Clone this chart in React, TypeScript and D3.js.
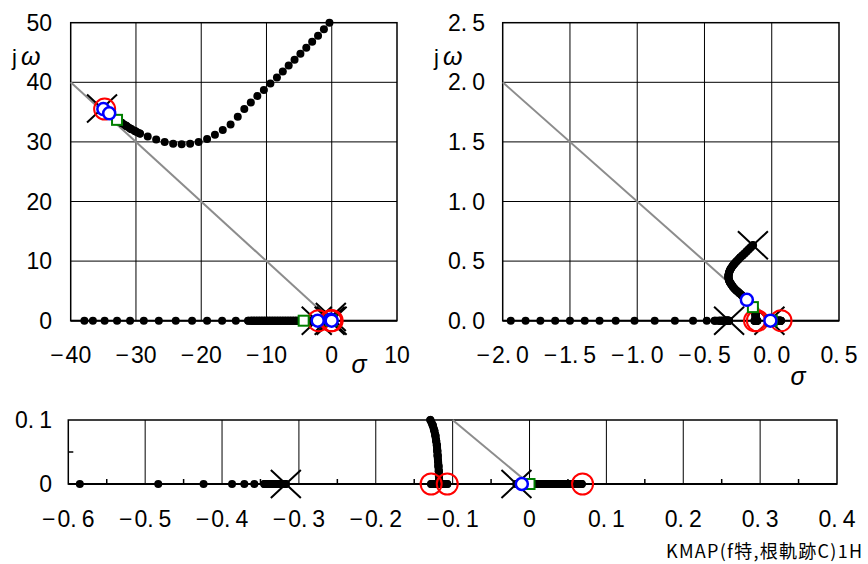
import React, { useEffect, useRef } from "react";
import * as d3 from "d3";

// tick values of the three panels
const tlXTicks = [-40, -30, -20, -10, 0, 10];
const tlYTicks = [0, 10, 20, 30, 40, 50];
const trXTicks = [-2.0, -1.5, -1.0, -0.5, 0.0, 0.5];
const trYTicks = [0.0, 0.5, 1.0, 1.5, 2.0, 2.5];
const btXTicks = [-0.6, -0.5, -0.4, -0.3, -0.2, -0.1, 0, 0.1, 0.2, 0.3, 0.4];
const btYTicks = [0, 0.1];
const btXMinor = [-0.55, -0.45, -0.35, -0.25, -0.15, -0.05, 0.05, 0.15, 0.25, 0.35];
const btYMinor = [0.05];

// poles (x), zeros (red), closed-loop roots (blue / green)
const poleRe = [-35.2, -2.3, -0.317, -0.14, -0.017];
const poleIm = [35.6, 0, 0, 0.633, 0];
const zeroRe = [-34.8, -2.05, -0.128, -0.107, 0.069];
const zeroIm = [35.5, 0, 0, 0, 0];
const blueRe = [-35.0, -34.1, -2.15, -0.185, -0.01];
const blueIm = [35.5, 34.8, 0, 0.175, 0];
const greenRe = [-32.9, -4.3, -0.14, 0.0];
const greenIm = [33.7, 0, 0.114, 0];

// locus branch from the far complex pole pair
const upperRe = [-35.2, -34.7, -34.1, -33.5, -32.9, -32.2, -31.5, -30.8, -30.1, -29.4,
  -28.2, -26.9, -25.6, -24.3, -23.0, -21.7, -20.4, -19.1, -17.9, -16.7, -15.5, -14.4,
  -13.4, -12.4, -11.4, -10.4, -9.4, -8.4, -7.5, -6.6, -5.7, -4.8, -3.9, -3.0, -2.1, -1.2, -0.35];
const upperIm = [35.6, 35.2, 34.8, 34.2, 33.7, 33.2, 32.7, 32.2, 31.8, 31.4,
  30.9, 30.4, 30.0, 29.7, 29.6, 29.7, 30.0, 30.5, 31.2, 32.0, 32.9, 34.2,
  35.5, 36.6, 37.7, 38.7, 39.8, 40.8, 41.8, 42.8, 43.8, 44.8, 45.8, 46.8, 47.8, 48.9, 50.0];

// locus branch from the slow complex pole pair
const innerRe = [-0.14, -0.155, -0.17, -0.186, -0.202, -0.218, -0.235, -0.25, -0.265, -0.278,
  -0.29, -0.301, -0.31, -0.316, -0.32, -0.322, -0.321, -0.317, -0.31, -0.3, -0.29, -0.278,
  -0.265, -0.252, -0.24, -0.225, -0.21, -0.197, -0.185, -0.172, -0.16, -0.15, -0.14, -0.134,
  -0.129, -0.126, -0.124, -0.1225, -0.1215, -0.1205, -0.12, -0.1195, -0.119, -0.1185, -0.118,
  -0.1178, -0.1176, -0.1175];
const innerIm = [0.633, 0.617, 0.6, 0.582, 0.564, 0.547, 0.53, 0.512, 0.494, 0.477,
  0.46, 0.442, 0.425, 0.407, 0.39, 0.373, 0.356, 0.338, 0.32, 0.303, 0.286, 0.27,
  0.255, 0.243, 0.231, 0.215, 0.2, 0.187, 0.175, 0.16, 0.145, 0.13, 0.114, 0.107,
  0.1, 0.092, 0.084, 0.076, 0.068, 0.06, 0.052, 0.044, 0.036, 0.028, 0.02,
  0.012, 0.005, 0];

// real-axis branches
const breakRe = [-0.128, -0.125, -0.122, -0.119, -0.116, -0.113, -0.11, -0.107];
const rhpRe = [-0.017, -0.012, -0.006, 0.0, 0.006, 0.012, 0.018, 0.024, 0.03, 0.036,
  0.042, 0.048, 0.053, 0.058, 0.062, 0.066, 0.068];
const nearRe = [-0.317, -0.32, -0.323, -0.326, -0.329, -0.333, -0.337, -0.341, -0.345,
  -0.358, -0.371, -0.387, -0.424, -0.483, -0.585, -0.72, -0.87, -1.02, -1.16, -1.28,
  -1.39, -1.5, -1.61, -1.72, -1.83, -1.94];
const farRe = [-2.4, -2.7, -3.0, -3.3, -3.6, -3.9, -4.3, -4.7, -5.1, -5.5, -5.9, -6.3,
  -6.7, -7.1, -7.5, -7.9, -8.3, -8.7, -9.1, -9.5, -9.9, -10.3, -10.7, -11.1, -11.5, -11.9,
  -12.3, -12.8, -14.7, -16.8, -19.1, -21.4, -23.9, -26.5, -28.8, -30.9, -32.9, -34.8, -36.6, -37.9];

const zip = (re: number[], im?: number[]) => re.map((v, i) => [v, im ? im[i] : 0]);

const branches = [
  zip(upperRe, upperIm),
  zip(innerRe, innerIm),
  zip(breakRe),
  zip(rhpRe),
  zip(nearRe),
  zip(farRe),
];

const panels = [
  { xd: [-40, 10], yd: [0, 50], xr: [70.7, 397], yr: [320.7, 22.7], xt: tlXTicks, yt: tlYTicks,
    dec: 0, damp: 40, xm: [], ym: [], ylx: 52, xly: 355, omega: [12, 65], sigma: [359, 373], plainZero: false },
  { xd: [-2, 0.5], yd: [0, 2.5], xr: [502.7, 839], yr: [320.7, 22.7], xt: trXTicks, yt: trYTicks,
    dec: 1, damp: 2, xm: [], ym: [], ylx: 485, xly: 355, omega: [434, 65], sigma: [798, 385], plainZero: false },
  { xd: [-0.6, 0.4], yd: [0, 0.1], xr: [68.3, 837], yr: [484, 420], xt: btXTicks, yt: btYTicks,
    dec: 1, damp: 0.1, xm: btXMinor, ym: btYMinor, ylx: 52, xly: 519, omega: null, sigma: null, plainZero: true },
];

const numFont = "'Liberation Sans', Arial, sans-serif";

const addLabel = (g: any, v: number, dec: number, plainZero: boolean, x: number, y: number, anchor: string) => {
  const t = g.append("text")
    .attr("x", x).attr("y", y)
    .attr("text-anchor", anchor)
    .attr("dominant-baseline", "central")
    .attr("font-family", numFont)
    .attr("font-size", 23)
    .attr("fill", "#000");
  const neg = v < -1e-9;
  let s = Math.abs(v).toFixed(dec);
  if (plainZero && Math.abs(v) < 1e-9) s = "0";
  if (neg) t.append("tspan").text("\u2212");
  const parts = s.split(".");
  if (parts.length > 1) {
    t.append("tspan").attr("dx", neg ? 2 : 0).text(parts[0] + ".");
    t.append("tspan").attr("dx", 5).text(parts[1]);
  } else {
    t.append("tspan").attr("dx", neg ? 2 : 0).text(parts[0]);
  }
};

const drawChart = (el: SVGSVGElement) => {
  const svg = d3.select(el);
  svg.selectAll("*").remove();

  panels.forEach((p) => {
    const x = d3.scaleLinear().domain(p.xd).range(p.xr);
    const y = d3.scaleLinear().domain(p.yd).range(p.yr);
    const g = svg.append("g");
    const ex = (p.xd[1] - p.xd[0]) * 0.002;
    const ey = (p.yd[1] - p.yd[0]) * 0.002;
    const inside = (d: number[]) =>
      d[0] >= p.xd[0] - ex && d[0] <= p.xd[1] + ex && d[1] >= p.yd[0] - ey && d[1] <= p.yd[1] + ey;

    // grid
    p.xt.slice(1, -1).forEach((v) => {
      g.append("line").attr("x1", x(v)).attr("x2", x(v)).attr("y1", y(p.yd[0])).attr("y2", y(p.yd[1]))
        .attr("stroke", "#000").attr("stroke-width", 1);
    });
    p.yt.slice(1, -1).forEach((v) => {
      g.append("line").attr("x1", x(p.xd[0])).attr("x2", x(p.xd[1])).attr("y1", y(v)).attr("y2", y(v))
        .attr("stroke", "#000").attr("stroke-width", 1);
    });
    g.append("rect")
      .attr("x", x(p.xd[0])).attr("y", y(p.yd[1]))
      .attr("width", x(p.xd[1]) - x(p.xd[0])).attr("height", y(p.yd[0]) - y(p.yd[1]))
      .attr("fill", "none").attr("stroke", "#000").attr("stroke-width", 1.5);
    g.append("line").attr("x1", x(p.xd[0])).attr("x2", x(p.xd[1])).attr("y1", y(0)).attr("y2", y(0))
      .attr("stroke", "#000").attr("stroke-width", 2);

    // minor ticks (bottom panel)
    p.xm.forEach((v) => {
      g.append("line").attr("x1", x(v)).attr("x2", x(v)).attr("y1", y(0)).attr("y2", y(0) - 5)
        .attr("stroke", "#000").attr("stroke-width", 1.5);
    });
    p.ym.forEach((v) => {
      g.append("line").attr("x1", x(p.xd[0])).attr("x2", x(p.xd[0]) + 5).attr("y1", y(v)).attr("y2", y(v))
        .attr("stroke", "#000").attr("stroke-width", 1.5);
    });

    // damping line
    g.append("line").attr("x1", x(-p.damp)).attr("y1", y(p.damp)).attr("x2", x(0)).attr("y2", y(0))
      .attr("stroke", "#8c8c8c").attr("stroke-width", 2);

    // tick labels
    p.xt.forEach((v) => addLabel(g, v, p.dec, p.plainZero, x(v), p.xly, "middle"));
    p.yt.forEach((v) => addLabel(g, v, p.dec, p.plainZero, p.ylx, y(v), "end"));

    // axis titles
    if (p.omega) {
      const t = g.append("text").attr("x", p.omega[0]).attr("y", p.omega[1])
        .attr("font-family", numFont).attr("font-size", 22).attr("fill", "#000");
      t.append("tspan").text("j");
      t.append("tspan").attr("dx", 4).attr("font-style", "italic").attr("font-size", 25).text("ω");
    }
    if (p.sigma) {
      g.append("text").attr("x", p.sigma[0]).attr("y", p.sigma[1])
        .attr("text-anchor", "middle")
        .attr("font-family", numFont).attr("font-size", 25).attr("font-style", "italic")
        .attr("fill", "#000").text("σ");
    }

    // locus: dense runs of points become a solid band, every point is a dot
    branches.forEach((b) => {
      const pts = b.filter(inside).map((d) => [x(d[0]), y(d[1])]);
      for (let i = 1; i < pts.length; i++) {
        const dist = Math.hypot(pts[i][0] - pts[i - 1][0], pts[i][1] - pts[i - 1][1]);
        if (dist < 6.5) {
          g.append("line")
            .attr("x1", pts[i - 1][0]).attr("y1", pts[i - 1][1])
            .attr("x2", pts[i][0]).attr("y2", pts[i][1])
            .attr("stroke", "#000").attr("stroke-width", 8).attr("stroke-linecap", "round");
        }
      }
      g.selectAll(null).data(pts).enter().append("circle")
        .attr("cx", (d: number[]) => d[0]).attr("cy", (d: number[]) => d[1])
        .attr("r", 4).attr("fill", "#000");
    });

    // poles
    g.selectAll(null).data(zip(poleRe, poleIm).filter(inside)).enter().append("path")
      .attr("transform", (d: number[]) => "translate(" + x(d[0]) + "," + y(d[1]) + ")")
      .attr("d", "M-15,-14L15,14M-15,14L15,-14")
      .attr("stroke", "#000").attr("stroke-width", 2).attr("fill", "none");
    // zeros
    g.selectAll(null).data(zip(zeroRe, zeroIm).filter(inside)).enter().append("circle")
      .attr("cx", (d: number[]) => x(d[0])).attr("cy", (d: number[]) => y(d[1]))
      .attr("r", 10.5).attr("fill", "none").attr("stroke", "#ff0000").attr("stroke-width", 2);
    // closed-loop roots
    g.selectAll(null).data(zip(greenRe, greenIm).filter(inside)).enter().append("rect")
      .attr("x", (d: number[]) => x(d[0]) - 5).attr("y", (d: number[]) => y(d[1]) - 5)
      .attr("width", 10).attr("height", 10)
      .attr("fill", "#fff").attr("stroke", "#008000").attr("stroke-width", 2);
    g.selectAll(null).data(zip(blueRe, blueIm).filter(inside)).enter().append("circle")
      .attr("cx", (d: number[]) => x(d[0])).attr("cy", (d: number[]) => y(d[1]))
      .attr("r", 6).attr("fill", "#fff").attr("stroke", "#0000ff").attr("stroke-width", 2.5);
  });

  svg.append("text")
    .attr("x", 862).attr("y", 558)
    .attr("text-anchor", "end")
    .attr("font-family", "'Noto Sans CJK JP', sans-serif")
    .attr("font-size", 18)
    .attr("textLength", 196)
    .attr("lengthAdjust", "spacing")
    .attr("fill", "#000")
    .text("KMAP(f特,根軌跡C)1H");
};

const App = () => {
  const ref = useRef<SVGSVGElement>(null);
  useEffect(() => {
    if (ref.current) drawChart(ref.current);
  }, []);
  return (
    <div style={{ position: "absolute", left: 0, top: 0 }}>
      <svg ref={ref} width={868} height={564} style={{ display: "block", background: "#fff" }} />
    </div>
  );
};

export default App;
